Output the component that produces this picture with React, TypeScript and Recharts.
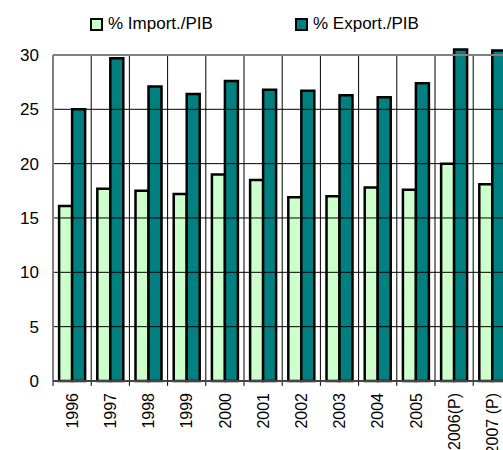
import React from 'react';
import { BarChart, Bar, XAxis, YAxis, ReferenceLine } from 'recharts';

const years = ['1996', '1997', '1998', '1999', '2000', '2001', '2002', '2003', '2004', '2005', '2006(P)', '2007 (P)'];
const importPib = [16.1, 17.7, 17.5, 17.2, 19.0, 18.5, 16.9, 17.0, 17.8, 17.6, 20.0, 18.1];
const exportPib = [25.0, 29.7, 27.1, 26.4, 27.6, 26.8, 26.7, 26.3, 26.1, 27.4, 30.5, 30.4];
const yTicks = [0, 5, 10, 15, 20, 25, 30];
// category edges on a helper numeric axis (1 = left edge of 1996)
const edges = [1, 2, 3, 4, 5, 6, 7, 8, 9, 10, 11, 12, 13];

const chartData = years.map((year, i) => ({ year, edge: edges[i], imp: importPib[i], exp: exportPib[i] }));

const colors = {
  imp: '#CCFFCC',
  exp: '#008080',
  frame: '#808080',
  grid: '#000000',
};

const font = '"Liberation Sans", Arial, sans-serif';
const first = edges[0];
const last = edges[edges.length - 1];

// rotated year labels, reading bottom to top
const YearTick = ({ x, y, payload }: any) => (
  <text
    transform={`translate(${x},${y + 4}) rotate(-90)`}
    textAnchor="end"
    dy="0.36em"
    fontSize={16}
    fontFamily={font}
    fill="#000"
  >
    {payload.value}
  </text>
);

const LegendBox = ({ left, color, label }: { left: number; color: string; label: string }) => (
  <div style={{ position: 'absolute', left, top: 14, height: 20, display: 'flex', alignItems: 'center' }}>
    <div style={{ width: 13, height: 13, boxSizing: 'border-box', border: '2px solid #000', background: color, marginRight: 5 }} />
    <span style={{ fontFamily: font, fontSize: 17, color: '#000', whiteSpace: 'nowrap' }}>{label}</span>
  </div>
);

export default function App() {
  return (
    <div style={{ position: 'fixed', left: 0, top: 0, width: 503, height: 450, overflow: 'hidden', background: '#fff' }}>
      <LegendBox left={90} color={colors.imp} label="% Import./PIB" />
      <LegendBox left={295} color={colors.exp} label="% Export./PIB" />
      <BarChart
        width={520}
        height={450}
        data={chartData}
        margin={{ top: 44.1, right: 8.6, left: 0, bottom: 0 }}
        barCategoryGap="16%"
        barGap={0}
      >
        <XAxis
          dataKey="year"
          height={69}
          axisLine={{ stroke: '#444', strokeWidth: 2 }}
          tickLine={false}
          tick={<YearTick />}
          interval={0}
        />
        <XAxis xAxisId="n" dataKey="edge" type="number" domain={[first, last]} allowDataOverflow hide />
        <YAxis
          domain={[0, 31]}
          ticks={yTicks}
          width={53}
          axisLine={false}
          tickLine={false}
          tickMargin={8}
          tick={{ fontSize: 17, fontFamily: font, fill: '#000' }}
        />
        {/* horizontal grid */}
        {yTicks.slice(1, -1).map((t) => (
          <ReferenceLine
            key={`h-${t}`}
            xAxisId="n"
            ifOverflow="visible"
            segment={[{ x: first, y: t }, { x: last, y: t }]}
            stroke={colors.grid}
            strokeWidth={1}
          />
        ))}
        {/* category edges, running past the axis as tick marks */}
        {edges.slice(1).map((b) => (
          <ReferenceLine
            key={`v-${b}`}
            xAxisId="n"
            ifOverflow="visible"
            segment={[{ x: b, y: -0.45 }, { x: b, y: 30 }]}
            stroke={colors.grid}
            strokeWidth={1}
          />
        ))}
        {/* grey frame: top and left */}
        <ReferenceLine
          xAxisId="n"
          ifOverflow="visible"
          segment={[{ x: first, y: 30 }, { x: last, y: 30 }]}
          stroke={colors.frame}
          strokeWidth={2}
        />
        <ReferenceLine
          xAxisId="n"
          ifOverflow="visible"
          segment={[{ x: first, y: -0.45 }, { x: first, y: 30 }]}
          stroke={colors.frame}
          strokeWidth={2}
        />
        <Bar dataKey="imp" fill={colors.imp} stroke="#000" strokeWidth={2.5} isAnimationActive={false} />
        <Bar dataKey="exp" fill={colors.exp} stroke="#000" strokeWidth={2.5} isAnimationActive={false} />
      </BarChart>
    </div>
  );
}
